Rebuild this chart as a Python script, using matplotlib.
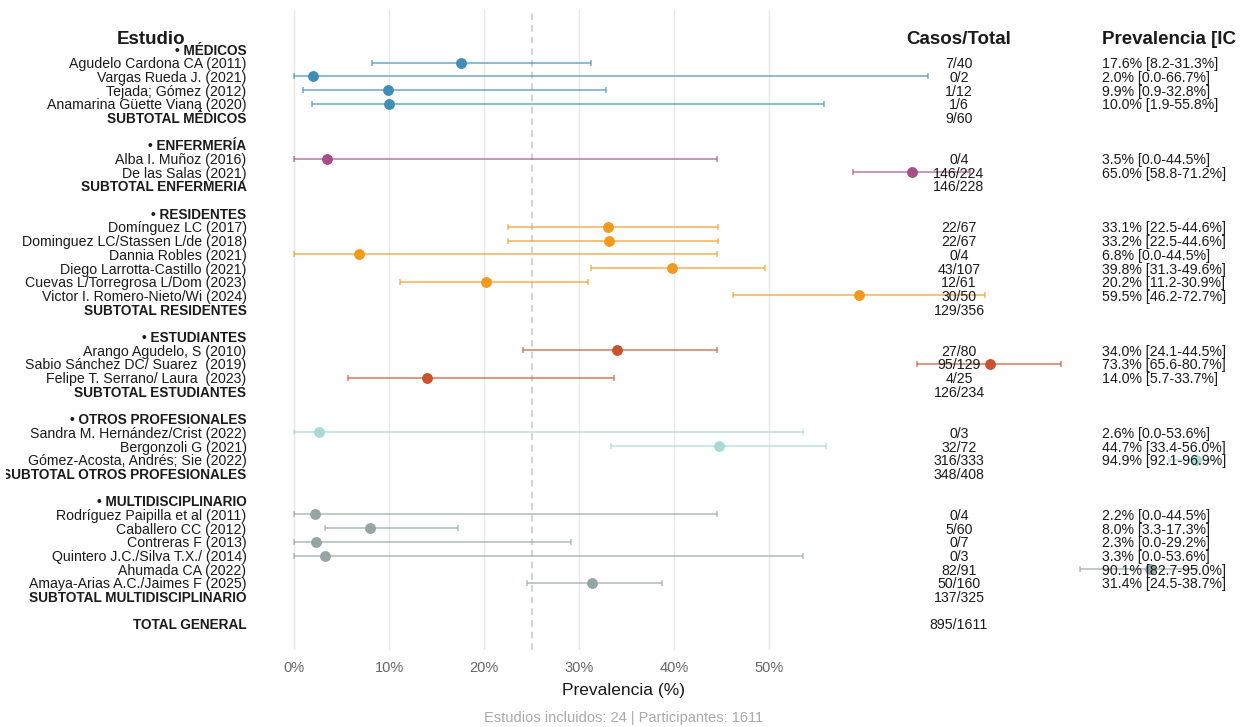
import matplotlib
matplotlib.use("Agg")
import matplotlib.pyplot as plt

plt.rcParams['font.family'] = ['Liberation Sans', 'DejaVu Sans']

# ---- data -------------------------------------------------------------
group_names = ["MÉDICOS", "ENFERMERÍA", "RESIDENTES", "ESTUDIANTES",
               "OTROS PROFESIONALES", "MULTIDISCIPLINARIO"]
group_colors = ["#3E8EB6", "#A64D8A", "#F39A1E", "#C9532F", "#A8D9D9", "#95A5A6"]

study_group = [0, 0, 0, 0,
               1, 1,
               2, 2, 2, 2, 2, 2,
               3, 3, 3,
               4, 4, 4,
               5, 5, 5, 5, 5, 5]
study_labels = [
    "Agudelo Cardona CA (2011)", "Vargas Rueda J. (2021)", "Tejada; Gómez (2012)",
    "Anamarina Güette Vianą (2020)",
    "Alba I. Muñoz (2016)", "De las Salas (2021)",
    "Domínguez LC (2017)", "Dominguez LC/Stassen L/de (2018)", "Dannia Robles (2021)",
    "Diego Larrotta-Castillo (2021)", "Cuevas L/Torregrosa L/Dom (2023)",
    "Victor I. Romero-Nieto/Wi (2024)",
    "Arango Agudelo, S (2010)", "Sabio Sánchez DC/ Suarez  (2019)",
    "Felipe T. Serrano/ Laura  (2023)",
    "Sandra M. Hernández/Crist (2022)", "Bergonzoli G (2021)",
    "Gómez-Acosta, Andrés; Sie (2022)",
    "Rodríguez Paipilla et al (2011)", "Caballero CC (2012)", "Contreras F (2013)",
    "Quintero J.C./Silva T.X./ (2014)", "Ahumada CA (2022)",
    "Amaya-Arias A.C./Jaimes F (2025)",
]
cases = [7, 0, 1, 1, 0, 146, 22, 22, 0, 43, 12, 30, 27, 95, 4, 0, 32, 316,
         0, 5, 0, 0, 82, 50]
totals = [40, 2, 12, 6, 4, 224, 67, 67, 4, 107, 61, 50, 80, 129, 25, 3, 72, 333,
          4, 60, 7, 3, 91, 160]
prev = [17.6, 2.0, 9.9, 10.0, 3.5, 65.0, 33.1, 33.2, 6.8, 39.8, 20.2, 59.5,
        34.0, 73.3, 14.0, 2.6, 44.7, 94.9, 2.2, 8.0, 2.3, 3.3, 90.1, 31.4]
ci_low = [8.2, 0.0, 0.9, 1.9, 0.0, 58.8, 22.5, 22.5, 0.0, 31.3, 11.2, 46.2,
          24.1, 65.6, 5.7, 0.0, 33.4, 92.1, 0.0, 3.3, 0.0, 0.0, 82.7, 24.5]
ci_high = [31.3, 66.7, 32.8, 55.8, 44.5, 71.2, 44.6, 44.6, 44.5, 49.6, 30.9, 72.7,
           44.5, 80.7, 33.7, 53.6, 56.0, 96.9, 44.5, 17.3, 29.2, 53.6, 95.0, 38.7]

subtotal_labels = ["SUBTOTAL MÉDICOS", "SUBTOTAL ENFERMERIA", "SUBTOTAL RESIDENTES",
                   "SUBTOTAL ESTUDIANTES", "SUBTOTAL OTROS PROFESIONALES",
                   "SUBTOTAL MULTIDISCIPLINARIO"]
subtotal_cases = [9, 146, 129, 126, 348, 137]
subtotal_totals = [60, 228, 356, 234, 408, 325]
total_label = "TOTAL GENERAL"
total_cases = 895
total_n = 1611

x_ticks = [0, 10, 20, 30, 40, 50]
ref_line = 25
caption = f"Estudios incluidos: {len(study_labels)} | Participantes: {total_n}"

# ---- layout -----------------------------------------------------------
W, H = 1241, 727
fig = plt.figure(figsize=(W / 100, H / 100), dpi=100)
px_left, px_right, px_top, px_bottom = 6, 1241, 10, 650
ax = fig.add_axes([px_left / W, 1 - px_bottom / H,
                   (px_right - px_left) / W, (px_bottom - px_top) / H])
scale = 9.5  # pixels per percentage point
ax.set_xlim((px_left - 294) / scale, (px_right - 294) / scale)
row_px = 13.69
ax.set_ylim(2 + (px_bottom - 49) / row_px, 2 - (49 - px_top) / row_px)

for s in ax.spines.values():
    s.set_visible(False)
ax.set_yticks([])
ax.set_xticks(x_ticks)
ax.set_xticklabels([f"{t}%" for t in x_ticks], fontsize=10.5, color="#666666")
ax.tick_params(axis="x", length=0, pad=8)
for t in x_ticks:
    ax.axvline(t, color="#E8E8E8", lw=1.0, zorder=0)
ax.axvline(ref_line, color="#CCCCCC", lw=1.2, ls=(0, (4, 3)), zorder=0.5)
ax.set_xlabel("Prevalencia (%)", fontsize=12.5, color="#1a1a1a", labelpad=6)

x_lab, x_cases, x_prev = -5, 70, 85
txt_col = "#1a1a1a"

def put(x, y, s, ha, bold=False, size=10.2):
    ax.text(x, y, s, ha=ha, va="center_baseline", fontsize=size, color=txt_col,
            fontweight="bold" if bold else "normal", clip_on=True, zorder=3)

# column headers
put(-15, 1.15, "Estudio", "center", bold=True, size=13.5)
put(x_cases, 1.15, "Casos/Total", "center", bold=True, size=13.5)
put(x_prev, 1.15, "Prevalencia [IC 95%]", "left", bold=True, size=13.5)

row = 2
for g, gname in enumerate(group_names):
    color = group_colors[g]
    put(x_lab, row, "• " + gname, "right", bold=True, size=9.8)
    row += 1
    for i, sg in enumerate(study_group):
        if sg != g:
            continue
        ax.errorbar(prev[i], row,
                    xerr=[[prev[i] - ci_low[i]], [ci_high[i] - prev[i]]],
                    fmt="none", ecolor=color, alpha=0.65, elinewidth=1.3,
                    capsize=2.2, capthick=1.2, zorder=2)
        ax.plot(prev[i], row, "o", color=color, ms=6.8, mec=color, zorder=2.5)
        put(x_lab, row, study_labels[i], "right")
        put(x_cases, row, f"{cases[i]}/{totals[i]}", "center")
        put(x_prev, row, f"{prev[i]:.1f}% [{ci_low[i]:.1f}-{ci_high[i]:.1f}%]", "left")
        row += 1
    put(x_lab, row, subtotal_labels[g], "right", bold=True, size=9.8)
    put(x_cases, row, f"{subtotal_cases[g]}/{subtotal_totals[g]}", "center")
    row += 2

put(x_lab, row, total_label, "right", bold=True, size=9.8)
put(x_cases, row, f"{total_cases}/{total_n}", "center")

fig.text((px_left + px_right) / 2 / W, 1 - 718 / H, caption, ha="center",
         va="center", fontsize=10.5, color="#AAAAAA")

fig.savefig("out.png", dpi=100)
